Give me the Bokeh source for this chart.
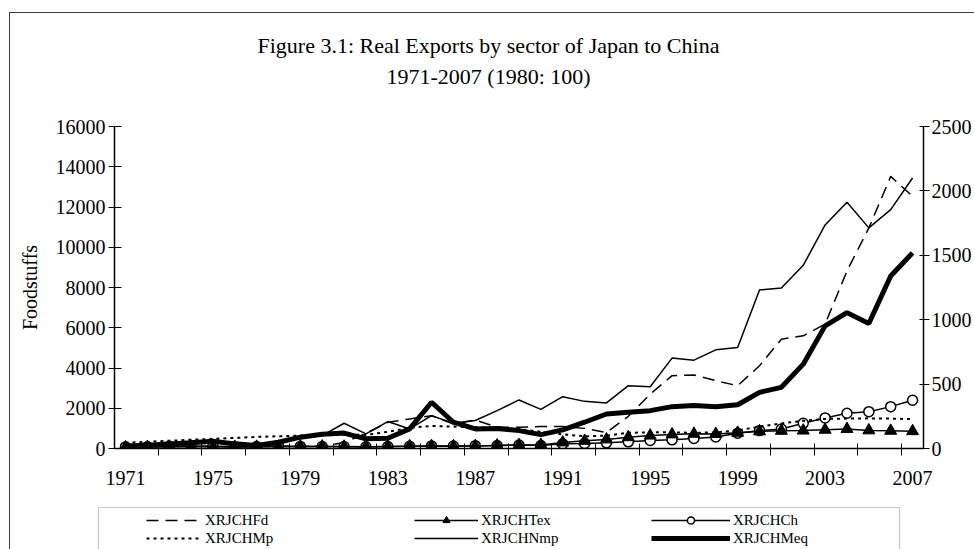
from bokeh.plotting import figure
from bokeh.layouts import column
from bokeh.models import (Range1d, LinearAxis, FixedTicker, Title, Legend, LegendItem,
                          ColumnDataSource, BoxAnnotation)
from bokeh.embed import file_html
from bokeh.resources import INLINE

years = list(range(1971, 2008))

# left axis series
fd = [100, 90, 110, 120, 100, 90, 95, 110, 120, 100,
      300, 750, 1300, 1470, 1630, 1220, 1420, 1060, 1060, 1090,
      1090, 1000, 790, 1600, 2700, 3620, 3650, 3370, 3120, 4110,
      5430, 5600, 6180, 8820, 10960, 13520, 12530]
tex = [60, 70, 80, 90, 90, 80, 85, 95, 100, 100,
       90, 80, 95, 110, 120, 110, 120, 150, 170, 180,
       300, 380, 450, 560, 640, 700, 730, 720, 780, 850,
       880, 890, 930, 970, 900, 880, 860]
ch = [80, 90, 110, 120, 110, 90, 95, 110, 105, 100,
      95, 85, 100, 110, 130, 120, 140, 150, 170, 150,
      230, 250, 280, 330, 400, 430, 500, 570, 760, 890,
      970, 1250, 1520, 1750, 1830, 2080, 2400]
# right axis series
mp = [45, 52, 60, 68, 75, 82, 90, 95, 100, 100,
      110, 105, 130, 160, 175, 170, 165, 160, 150, 130,
      110, 95, 100, 122, 126, 125, 122, 125, 140, 170,
      195, 215, 230, 232, 234, 232, 228]
nmp = [20, 25, 35, 45, 55, 40, 30, 50, 80, 100,
       196, 114, 209, 152, 255, 196, 217, 294, 377, 304,
       402, 366, 354, 488, 480, 702, 686, 766, 784, 1231,
       1246, 1422, 1736, 1912, 1713, 1855, 2100]
meq = [20, 25, 35, 45, 57, 36, 23, 49, 88, 110,
       120, 75, 80, 152, 359, 204, 152, 155, 139, 108,
       145, 204, 268, 281, 294, 325, 333, 325, 340, 436,
       475, 655, 952, 1055, 970, 1339, 1519]

left_ticks = list(range(0, 16001, 2000))
right_ticks = list(range(0, 2501, 500))
x_label_years = list(range(1971, 2008, 4))

title1 = "Figure 3.1: Real Exports by sector of Japan to China"
title2 = "1971-2007 (1980: 100)"
names = ["XRJCHFd", "XRJCHMp", "XRJCHTex", "XRJCHNmp", "XRJCHCh", "XRJCHMeq"]

FONT = "Liberation Serif"

src = ColumnDataSource(dict(year=years, fd=fd, tex=tex, ch=ch, mp=mp, nmp=nmp, meq=meq))

# ---------------- main chart ----------------
p = figure(width=964, height=487, output_backend="svg", toolbar_location=None,
           x_range=Range1d(1970.5, 2007.5), y_range=Range1d(0, 16000),
           min_border_left=104, min_border_right=50, min_border_top=113, min_border_bottom=52,
           x_axis_location=None, y_axis_location=None)
p.extra_y_ranges = {"right": Range1d(0, 2500)}
p.outline_line_color = None
p.grid.grid_line_color = None
p.background_fill_color = "white"
p.border_fill_color = "white"

# titles: p.title is outermost; added titles stack outward from the frame
p.title.text = title1
p.title.align = "left"
p.title.offset = 143
p.title.text_font = FONT
p.title.text_font_size = "22px"
p.title.text_font_style = "normal"
p.title.text_color = "black"
p.title.standoff = 4
spacer = Title(text=" ", align="left", text_font=FONT, text_font_size="22px",
               text_font_style="normal", standoff=9)
p.add_layout(spacer, "above")
t2 = Title(text=title2, align="left", offset=272, text_font=FONT, text_font_size="22px",
           text_font_style="normal", text_color="black", standoff=4)
p.add_layout(t2, "above")

# axes
xaxis = LinearAxis(ticker=FixedTicker(ticks=x_label_years,
                                      minor_ticks=[1970.5 + 2 * k for k in range(1, 19)]))
xaxis.major_tick_in = 0
xaxis.major_tick_out = 0
xaxis.minor_tick_in = 5
xaxis.minor_tick_out = 7
xaxis.minor_tick_line_color = "black"
xaxis.minor_tick_line_width = 1
xaxis.major_label_standoff = 15
xaxis.axis_line_width = 1.5
xaxis.major_label_text_font = FONT
xaxis.major_label_text_font_size = "20px"
xaxis.major_label_text_color = "black"
p.add_layout(xaxis, "below")

yaxis = LinearAxis(ticker=FixedTicker(ticks=left_ticks))
yaxis.major_tick_in = 7
yaxis.major_tick_out = 6
yaxis.minor_tick_line_color = None
yaxis.major_label_standoff = 3
yaxis.axis_line_width = 1.5
yaxis.major_label_text_font = FONT
yaxis.major_label_text_font_size = "20px"
yaxis.major_label_text_color = "black"
yaxis.axis_label = "Foodstuffs"
yaxis.axis_label_text_font = FONT
yaxis.axis_label_text_font_size = "20px"
yaxis.axis_label_text_font_style = "normal"
yaxis.axis_label_text_color = "black"
yaxis.axis_label_standoff = 12
p.add_layout(yaxis, "left")

raxis = LinearAxis(y_range_name="right", ticker=FixedTicker(ticks=right_ticks))
raxis.major_tick_in = 4
raxis.major_tick_out = 6
raxis.minor_tick_line_color = None
raxis.major_label_standoff = 2
raxis.axis_line_width = 1.5
raxis.major_label_text_font = FONT
raxis.major_label_text_font_size = "20px"
raxis.major_label_text_color = "black"
p.add_layout(raxis, "right")

# series styles
STY = {
    "fd": dict(line_color="black", line_width=1.5, line_dash="12 7"),
    "tex": dict(line_color="black", line_width=1.5),
    "ch": dict(line_color="black", line_width=1.5),
    "mp": dict(line_color="black", line_width=2, line_dash="3 4"),
    "nmp": dict(line_color="black", line_width=1.5),
    "meq": dict(line_color="black", line_width=5),
}
TRI = dict(marker="triangle", size=12, fill_color="black", line_color="black")
CIR = dict(marker="circle", size=10, fill_color="white", line_color="black", line_width=1.5)

p.line("year", "fd", source=src, **STY["fd"])
p.line("year", "ch", source=src, **STY["ch"])
p.scatter("year", "ch", source=src, **CIR)
p.line("year", "tex", source=src, **STY["tex"])
p.scatter("year", "tex", source=src, **TRI)
p.line("year", "mp", source=src, y_range_name="right", **STY["mp"])
p.line("year", "nmp", source=src, y_range_name="right", **STY["nmp"])
p.line("year", "meq", source=src, y_range_name="right", **STY["meq"])

# ---------------- legend strip ----------------
pl = figure(width=964, height=49, output_backend="svg", toolbar_location=None,
            x_range=Range1d(0, 1), y_range=Range1d(0, 1),
            min_border_left=86, min_border_right=73, min_border_top=5, min_border_bottom=0,
            x_axis_location=None, y_axis_location=None)
pl.outline_line_color = None
pl.grid.grid_line_color = None
pl.title.visible = False
for fig in (p, pl):
    if "frame_align" in fig.properties():
        fig.frame_align = False

pl.add_layout(BoxAnnotation(left=2, right=803, top=42, bottom=-60,
                            left_units="screen", right_units="screen",
                            top_units="screen", bottom_units="screen",
                            fill_alpha=0, line_color="#404040", line_width=1.2))

# legend sample renderers: placed outside the strip's visible range
off = ColumnDataSource(dict(x=[5, 6], y=[5, 6]))
l_fd = pl.line("x", "y", source=off, **STY["fd"])
l_mp = pl.line("x", "y", source=off, **STY["mp"])
l_tex = pl.line("x", "y", source=off, **STY["tex"])
l_tex_m = pl.scatter("x", "y", source=off, **TRI)
l_nmp = pl.line("x", "y", source=off, **STY["nmp"])
l_ch = pl.line("x", "y", source=off, **STY["ch"])
l_ch_m = pl.scatter("x", "y", source=off, **CIR)
l_meq = pl.line("x", "y", source=off, **STY["meq"])


def mk_legend(items, x, gw):
    lg = Legend(items=items, location=(x, 2), orientation="vertical",
                glyph_width=gw, glyph_height=18, label_height=18, spacing=0,
                padding=0, margin=0, border_line_color=None, background_fill_alpha=0,
                label_text_font=FONT, label_text_font_size="15px",
                label_text_color="black", label_standoff=3)
    pl.add_layout(lg, "center")


mk_legend([LegendItem(label=names[0], renderers=[l_fd]),
           LegendItem(label=names[1], renderers=[l_mp])], 50, 56)
mk_legend([LegendItem(label=names[2], renderers=[l_tex, l_tex_m]),
           LegendItem(label=names[3], renderers=[l_nmp])], 318, 64)
mk_legend([LegendItem(label=names[4], renderers=[l_ch, l_ch_m]),
           LegendItem(label=names[5], renderers=[l_meq])], 555, 79)

layout = column(p, pl, spacing=0,
                styles={"margin-left": "9px", "margin-top": "12px",
                        "border-top": "1px solid #404040", "border-left": "1px solid #404040"})

open("out.html", "w").write(file_html(layout, INLINE))
